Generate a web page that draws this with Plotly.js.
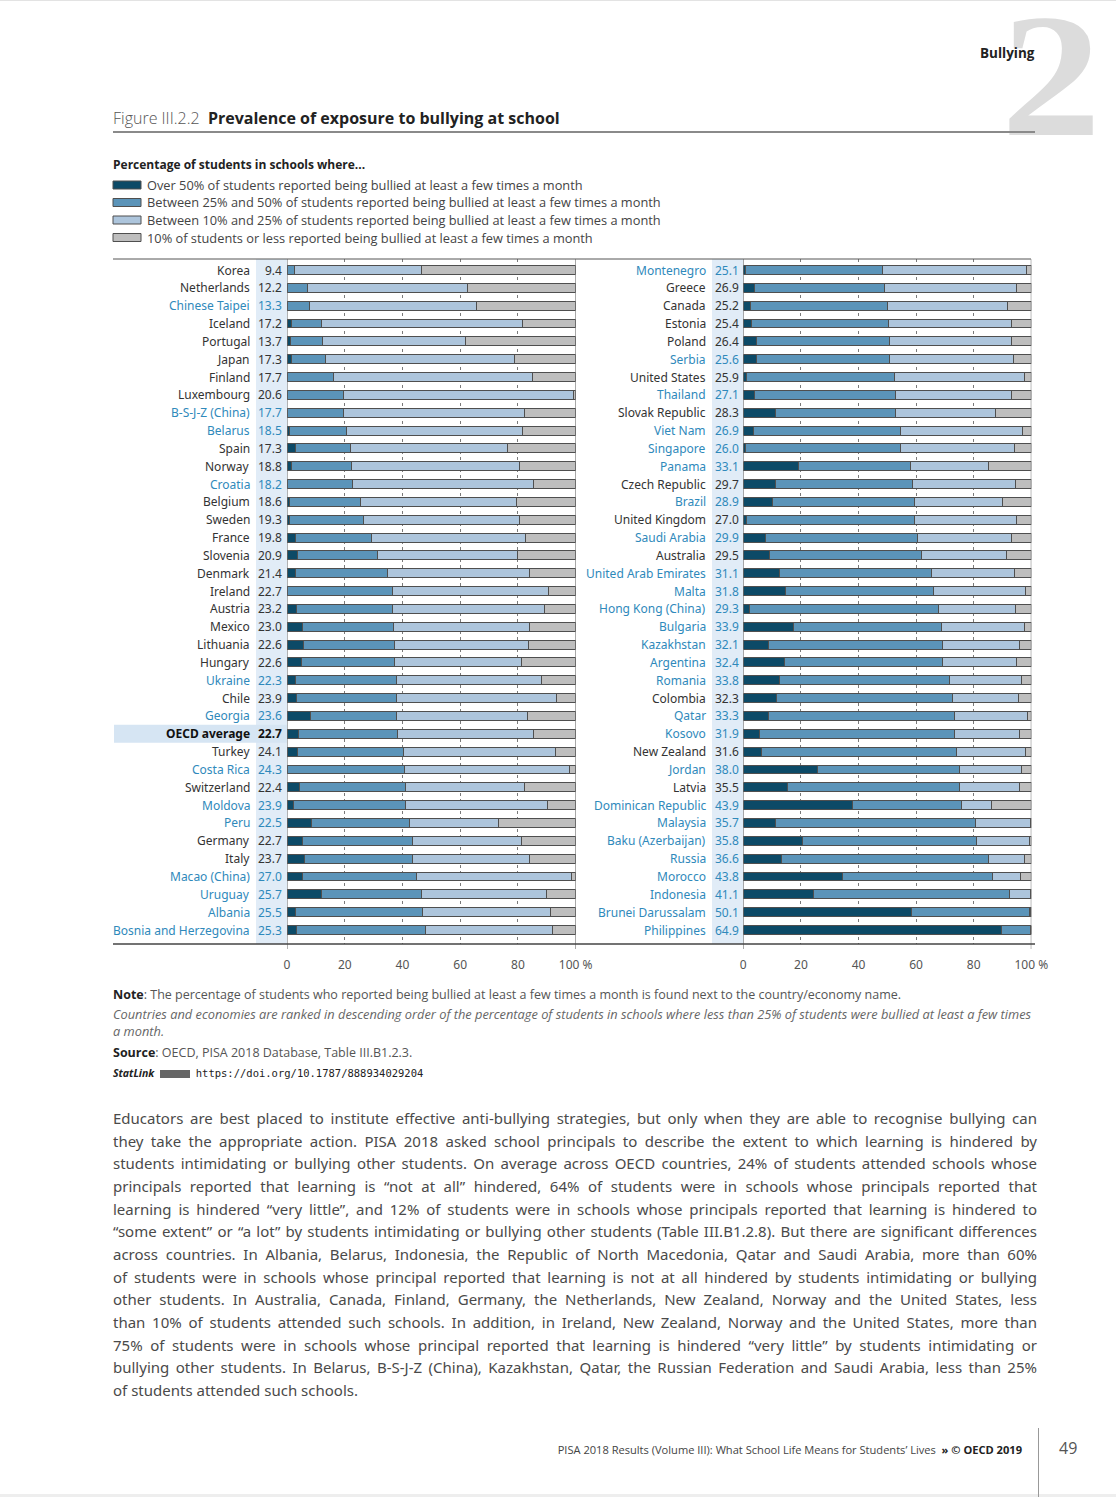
<!DOCTYPE html>
<html><head><meta charset="utf-8">
<script src="https://cdn.plot.ly/plotly-3.0.1.min.js"></script>
<style>
body{margin:0;background:#fff;}
#page{position:relative;width:1116px;height:1497px;overflow:hidden;font-family:'Open Sans',sans-serif;color:#444;}
#chart{position:absolute;left:0;top:0;width:1116px;height:1497px;}
.t{position:absolute;white-space:nowrap;line-height:20px;}
.pl{position:absolute;left:113px;width:924px;white-space:nowrap;text-align:justify;text-align-last:justify;font-size:15px;line-height:20px;color:#4a4a4a;font-family:'Noto Sans','Open Sans',sans-serif;}
</style></head>
<body><div id="page">
<div class="t" id="big2" style="left:1001px;top:16px;font-family:'Liberation Serif',serif;font-weight:bold;font-size:176px;line-height:120px;color:#dcdcdc;transform:scaleX(1.14);transform-origin:left top;">2</div>
<div id="chart"></div>
<div class="t" style="left:0;top:0;width:1116px;height:1px;background:#e3e3e3"></div>
<div class="t" style="left:0;top:1494px;width:1116px;height:3px;background:#eeeeee"></div>
<div class="t" style="left:980px;top:43px;font-size:13.5px;font-weight:bold;color:#222;">Bullying</div>
<div class="t" style="left:113px;top:108px;font-size:16px;color:#555;font-weight:300;">Figure III.2.2&nbsp;&nbsp;<span style="font-weight:bold;color:#222;font-size:16px;">Prevalence of exposure to bullying at school</span></div>
<div class="t" style="left:113px;top:131px;width:922px;height:1.5px;background:#8a8a8a"></div>
<div class="t" style="left:113px;top:155px;font-size:12px;font-weight:bold;color:#222;">Percentage of students in schools where...</div>

<div class="t" style="left:113px;top:985px;font-size:12.5px;color:#555;"><b style="color:#222">Note</b>: The percentage of students who reported being bullied at least a few times a month is found next to the country/economy name.</div>
<div class="t" style="left:113px;top:1004px;font-size:12.8px;color:#666;font-style:italic;">Countries and economies are ranked in descending order of the percentage of students in schools where less than 25% of students were bullied at least a few times</div>
<div class="t" style="left:113px;top:1021px;font-size:12.8px;color:#666;font-style:italic;">a month.</div>
<div class="t" style="left:113px;top:1043px;font-size:12.5px;color:#555;"><b style="color:#222">Source</b>: OECD, PISA 2018 Database, Table III.B1.2.3.</div>
<div class="t" style="left:113px;top:1063px;font-size:10.5px;color:#222;"><b><i>StatLink</i></b> <span style="display:inline-block;width:30px;height:8px;background:#666;vertical-align:middle;margin:0 3px;"></span> <span style="font-family:'DejaVu Sans Mono',monospace;font-size:10.5px;">https://doi.org/10.1787/888934029204</span></div>

<div id="para"></div>

<div class="t" style="right:94px;top:1440px;font-size:11.1px;color:#444;">PISA 2018 Results (Volume III): What School Life Means for Students’ Lives&nbsp; <b style="color:#222">» © OECD 2019</b></div>
<div class="t" style="left:1038px;top:1428px;width:1px;height:69px;background:#999"></div>
<div class="t" style="left:1059px;top:1438px;font-size:16px;color:#555;">49</div>
</div>
<script>
// ---------------- DATA ----------------
const legendLabels = [
  "Over 50% of students reported being bullied at least a few times a month",
  "Between 25% and 50% of students reported being bullied at least a few times a month",
  "Between 10% and 25% of students reported being bullied at least a few times a month",
  "10% of students or less reported being bullied at least a few times a month"
];
const tickValues = [0, 20, 40, 60, 80, 100];
const tickLabels = ["0", "20", "40", "60", "80", "100 %"];

const leftCountries = ["Korea","Netherlands","Chinese Taipei","Iceland","Portugal","Japan","Finland","Luxembourg","B-S-J-Z (China)","Belarus","Spain","Norway","Croatia","Belgium","Sweden","France","Slovenia","Denmark","Ireland","Austria","Mexico","Lithuania","Hungary","Ukraine","Chile","Georgia","OECD average","Turkey","Costa Rica","Switzerland","Moldova","Peru","Germany","Italy","Macao (China)","Uruguay","Albania","Bosnia and Herzegovina"];
const leftGroup = ["o","o","p","o","o","o","o","o","p","p","o","o","p","o","o","o","o","o","o","o","o","o","o","p","o","p","a","o","p","o","p","p","o","o","p","p","p","p"];
const leftBullied = [9.4,12.2,13.3,17.2,13.7,17.3,17.7,20.6,17.7,18.5,17.3,18.8,18.2,18.6,19.3,19.8,20.9,21.4,22.7,23.2,23.0,22.6,22.6,22.3,23.9,23.6,22.7,24.1,24.3,22.4,23.9,22.5,22.7,23.7,27.0,25.7,25.5,25.3];
const leftOver50 = [0,0,0,1.6,1.2,1.6,0.2,0,0,0.9,3.1,1.4,0,0.7,0.7,3.0,3.6,2.9,0,3.2,5.5,5.8,5.1,3.0,3.3,8.0,3.9,3.6,0.2,4.2,2.4,8.4,5.5,6.1,5.3,11.8,2.9,3.2];
const left25to50 = [2.5,7.0,7.9,10.5,11.2,11.8,16.0,19.5,19.5,19.8,18.8,20.9,22.7,24.9,25.9,26.3,27.6,31.9,36.5,33.5,31.5,31.3,32.3,34.9,34.7,30.1,34.3,36.6,40.4,36.7,38.6,34.0,37.9,37.4,39.5,34.9,44.2,44.8];
const left10to25 = [44.2,55.5,57.8,69.5,49.4,65.4,68.8,79.9,62.9,60.9,54.4,58.4,62.8,54.0,53.8,53.3,48.8,49.3,54.0,52.6,47.1,46.5,43.8,50.2,55.4,45.2,47.1,52.9,57.4,41.3,49.2,30.9,37.8,40.6,53.9,43.3,44.2,44.0];
const left10less = [53.3,37.5,34.3,18.4,38.2,21.2,15.0,0.6,17.6,18.4,23.7,19.3,14.5,20.4,19.6,17.4,20.0,15.9,9.5,10.7,15.9,16.4,18.8,11.9,6.6,16.7,14.7,6.9,2.0,17.8,9.8,26.7,18.8,15.9,1.3,10.0,8.7,8.0];

const rightCountries = ["Montenegro","Greece","Canada","Estonia","Poland","Serbia","United States","Thailand","Slovak Republic","Viet Nam","Singapore","Panama","Czech Republic","Brazil","United Kingdom","Saudi Arabia","Australia","United Arab Emirates","Malta","Hong Kong (China)","Bulgaria","Kazakhstan","Argentina","Romania","Colombia","Qatar","Kosovo","New Zealand","Jordan","Latvia","Dominican Republic","Malaysia","Baku (Azerbaijan)","Russia","Morocco","Indonesia","Brunei Darussalam","Philippines"];
const rightGroup = ["p","o","o","o","o","p","o","p","o","p","p","p","o","p","o","p","o","p","p","p","p","p","p","p","o","p","p","o","p","o","p","p","p","p","p","p","p","p"];
const rightBullied = [25.1,26.9,25.2,25.4,26.4,25.6,25.9,27.1,28.3,26.9,26.0,33.1,29.7,28.9,27.0,29.9,29.5,31.1,31.8,29.3,33.9,32.1,32.4,33.8,32.3,33.3,31.9,31.6,38.0,35.5,43.9,35.7,35.8,36.6,43.8,41.1,50.1,64.9];
const rightOver50 = [0.7,3.9,2.5,2.9,4.5,4.7,1.2,3.9,11.1,3.6,0.9,19.2,11.1,10.1,1.0,7.6,9.0,12.4,14.6,2.1,17.5,8.8,14.4,12.7,11.7,8.6,5.7,6.3,25.8,15.4,38.0,11.3,20.7,13.3,34.5,24.3,58.3,89.7];
const right25to50 = [47.8,45.2,47.4,47.6,46.2,46.1,51.3,48.8,41.6,51.0,53.8,39.0,47.6,49.3,58.5,53.0,52.8,53.0,51.6,65.6,51.4,60.2,54.7,58.9,61.0,64.8,67.8,67.9,49.1,59.6,37.7,69.4,60.2,71.9,52.0,68.3,41.1,10.1];
const right10to25 = [49.9,45.7,41.9,42.6,42.4,43.0,45.1,40.5,34.7,42.4,39.6,27.1,35.7,30.5,35.3,32.5,29.6,28.8,31.8,26.7,28.8,26.8,25.8,25.0,22.8,25.2,22.3,23.7,21.6,20.8,10.6,19.1,18.6,12.4,9.8,7.2,0.3,0.2];
const right10less = [1.6,5.2,8.2,6.9,6.9,6.2,2.4,6.8,12.6,3.0,5.7,14.7,5.6,10.1,5.2,6.9,8.6,5.8,2.0,5.6,2.3,4.2,5.1,3.4,4.5,1.4,4.2,2.1,3.5,4.2,13.7,0.2,0.5,2.4,3.7,0.2,0.3,0];

const paraLines = [
"Educators are best placed to institute effective anti-bullying strategies, but only when they are able to recognise bullying can",
"they take the appropriate action. PISA 2018 asked school principals to describe the extent to which learning is hindered by",
"students intimidating or bullying other students. On average across OECD countries, 24% of students attended schools whose",
"principals reported that learning is “not at all” hindered, 64% of students were in schools whose principals reported that",
"learning is hindered “very little”, and 12% of students were in schools whose principals reported that learning is hindered to",
"“some extent” or “a lot” by students intimidating or bullying other students (Table III.B1.2.8). But there are significant differences",
"across countries. In Albania, Belarus, Indonesia, the Republic of North Macedonia, Qatar and Saudi Arabia, more than 60%",
"of students were in schools whose principal reported that learning is not at all hindered by students intimidating or bullying",
"other students. In Australia, Canada, Finland, Germany, the Netherlands, New Zealand, Norway and the United States, less",
"than 10% of students attended such schools. In addition, in Ireland, New Zealand, Norway and the United States, more than",
"75% of students were in schools whose principal reported that learning is hindered “very little” by students intimidating or",
"bullying other students. In Belarus, B-S-J-Z (China), Kazakhstan, Qatar, the Russian Federation and Saudi Arabia, less than 25%",
"of students attended such schools."
];

// ---------------- PARAGRAPH ----------------
const para = document.getElementById('para');
paraLines.forEach((ln, i) => {
  const d = document.createElement('div');
  d.className = 'pl';
  d.style.top = (1108 + i * 22.67) + 'px';
  if (i === paraLines.length - 1) d.style.textAlignLast = 'left';
  d.textContent = ln;
  para.appendChild(d);
  if (d.scrollWidth > 924) {
    const sw = d.scrollWidth;
    d.style.letterSpacing = (-(sw - 924) / ln.length) + 'px';
  }
});

// ---------------- CHART ----------------
const W = 1116, H = 1497;
const X = p => p / W, Y = p => 1 - p / H;
const colors = ['#0c4a67', '#5b94b9', '#adc5dc', '#bebebe'];
const blue = '#2f89bb', dark = '#333';

const panels = [
  {c: leftCountries, g: leftGroup, v: leftBullied, s: [leftOver50, left25to50, left10to25, left10less], xa: 'x', ya: 'y', nameR: 251.5, valR: 283.5, band0: 256, band1: 287},
  {c: rightCountries, g: rightGroup, v: rightBullied, s: [rightOver50, right25to50, right10to25, right10less], xa: 'x2', ya: 'y2', nameR: 708, valR: 740.5, band0: 712, band1: 743.3}
];

const traces = [];
const annotations = [];
const shapes = [];

panels.forEach((p) => {
  p.s.forEach((seg, k) => {
    traces.push({
      type: 'bar', orientation: 'h', y: p.c, x: seg, xaxis: p.xa, yaxis: p.ya,
      width: 0.5, marker: {color: colors[k], line: {color: '#4f4f4f', width: 1}},
      showlegend: false, hoverinfo: 'skip'
    });
  });
  shapes.push({type: 'rect', xref: 'paper', yref: 'paper', x0: X(p.band0), x1: X(p.band1), y0: Y(944), y1: Y(259), fillcolor: '#e1ecf7', line: {width: 0}, layer: 'below'});
  p.c.forEach((name, i) => {
    const g = p.g[i];
    const col = g === 'p' ? blue : (g === 'a' ? '#111' : dark);
    const bold = g === 'a';
    if (bold) {
      shapes.push({type: 'rect', xref: 'paper', yref: p.ya, x0: X(114), x1: X(p.band1), y0: i - 0.5, y1: i + 0.5, fillcolor: '#d6e5f3', line: {width: 0}, layer: 'below'});
    }
    annotations.push({xref: 'paper', yref: p.ya, x: X(p.nameR), y: name, xanchor: 'right', yanchor: 'middle', showarrow: false,
      text: bold ? '<b>' + name + '</b>' : name, font: {family: 'Noto Sans, Open Sans, sans-serif', size: 12, color: col}});
    annotations.push({xref: 'paper', yref: p.ya, x: X(p.valR), y: name, xanchor: 'right', yanchor: 'middle', showarrow: false,
      text: bold ? '<b>' + p.v[i].toFixed(1) + '</b>' : p.v[i].toFixed(1), font: {family: 'Noto Sans, Open Sans, sans-serif', size: 12, color: col}});
  });
  [0, 100].forEach(v => {
    shapes.push({type: 'line', xref: p.xa, yref: 'paper', x0: v, x1: v, y0: Y(949), y1: Y(259), line: {color: '#666', width: 1}, layer: 'above'});
  });
});

shapes.push({type: 'line', xref: 'paper', yref: 'paper', x0: X(113), x1: X(1031), y0: Y(259), y1: Y(259), line: {color: '#555', width: 1}});
shapes.push({type: 'line', xref: 'paper', yref: 'paper', x0: X(113), x1: X(1035), y0: Y(944), y1: Y(944), line: {color: '#444', width: 1.3}});

legendLabels.forEach((t, k) => {
  const cy = [185, 202.5, 220, 237.5][k];
  shapes.push({type: 'rect', xref: 'paper', yref: 'paper', x0: X(113), x1: X(141), y0: Y(cy + 4), y1: Y(cy - 4), fillcolor: colors[k], line: {color: '#4f4f4f', width: 1}});
  annotations.push({xref: 'paper', yref: 'paper', x: X(145), y: Y(cy), xanchor: 'left', yanchor: 'middle', showarrow: false,
    text: t, font: {family: 'Open Sans, sans-serif', size: 12.8, color: '#444'}});
});

const xCommon = {
  range: [0, 100], tickvals: tickValues, ticktext: tickLabels, showgrid: true, griddash: 'dot', gridcolor: '#7a7a7a', gridwidth: 1,
  zeroline: false, showline: false, ticks: '', ticklabelstandoff: 12, tickfont: {family: 'Noto Sans, sans-serif', size: 12, color: '#555'}, fixedrange: true
};
const yCommon = {
  type: 'category', range: [37.785, -0.617], showticklabels: false, showgrid: false, zeroline: false, showline: false, ticks: '',
  domain: [Y(944), Y(259)], fixedrange: true
};

const layout = {
  width: W, height: H, margin: {l: 0, r: 0, t: 0, b: 0}, autosize: false,
  paper_bgcolor: 'rgba(0,0,0,0)', plot_bgcolor: 'rgba(0,0,0,0)',
  barmode: 'stack', showlegend: false,
  xaxis: Object.assign({}, xCommon, {domain: [X(287), X(575.7)], anchor: 'y'}),
  yaxis: Object.assign({}, yCommon, {anchor: 'x', categoryarray: leftCountries, categoryorder: 'array'}),
  xaxis2: Object.assign({}, xCommon, {domain: [X(743.3), X(1031.3)], anchor: 'y2'}),
  yaxis2: Object.assign({}, yCommon, {anchor: 'x2', categoryarray: rightCountries, categoryorder: 'array'}),
  shapes: shapes, annotations: annotations
};

Plotly.newPlot('chart', traces, layout, {displayModeBar: false, staticPlot: true});
</script>
</body></html>
